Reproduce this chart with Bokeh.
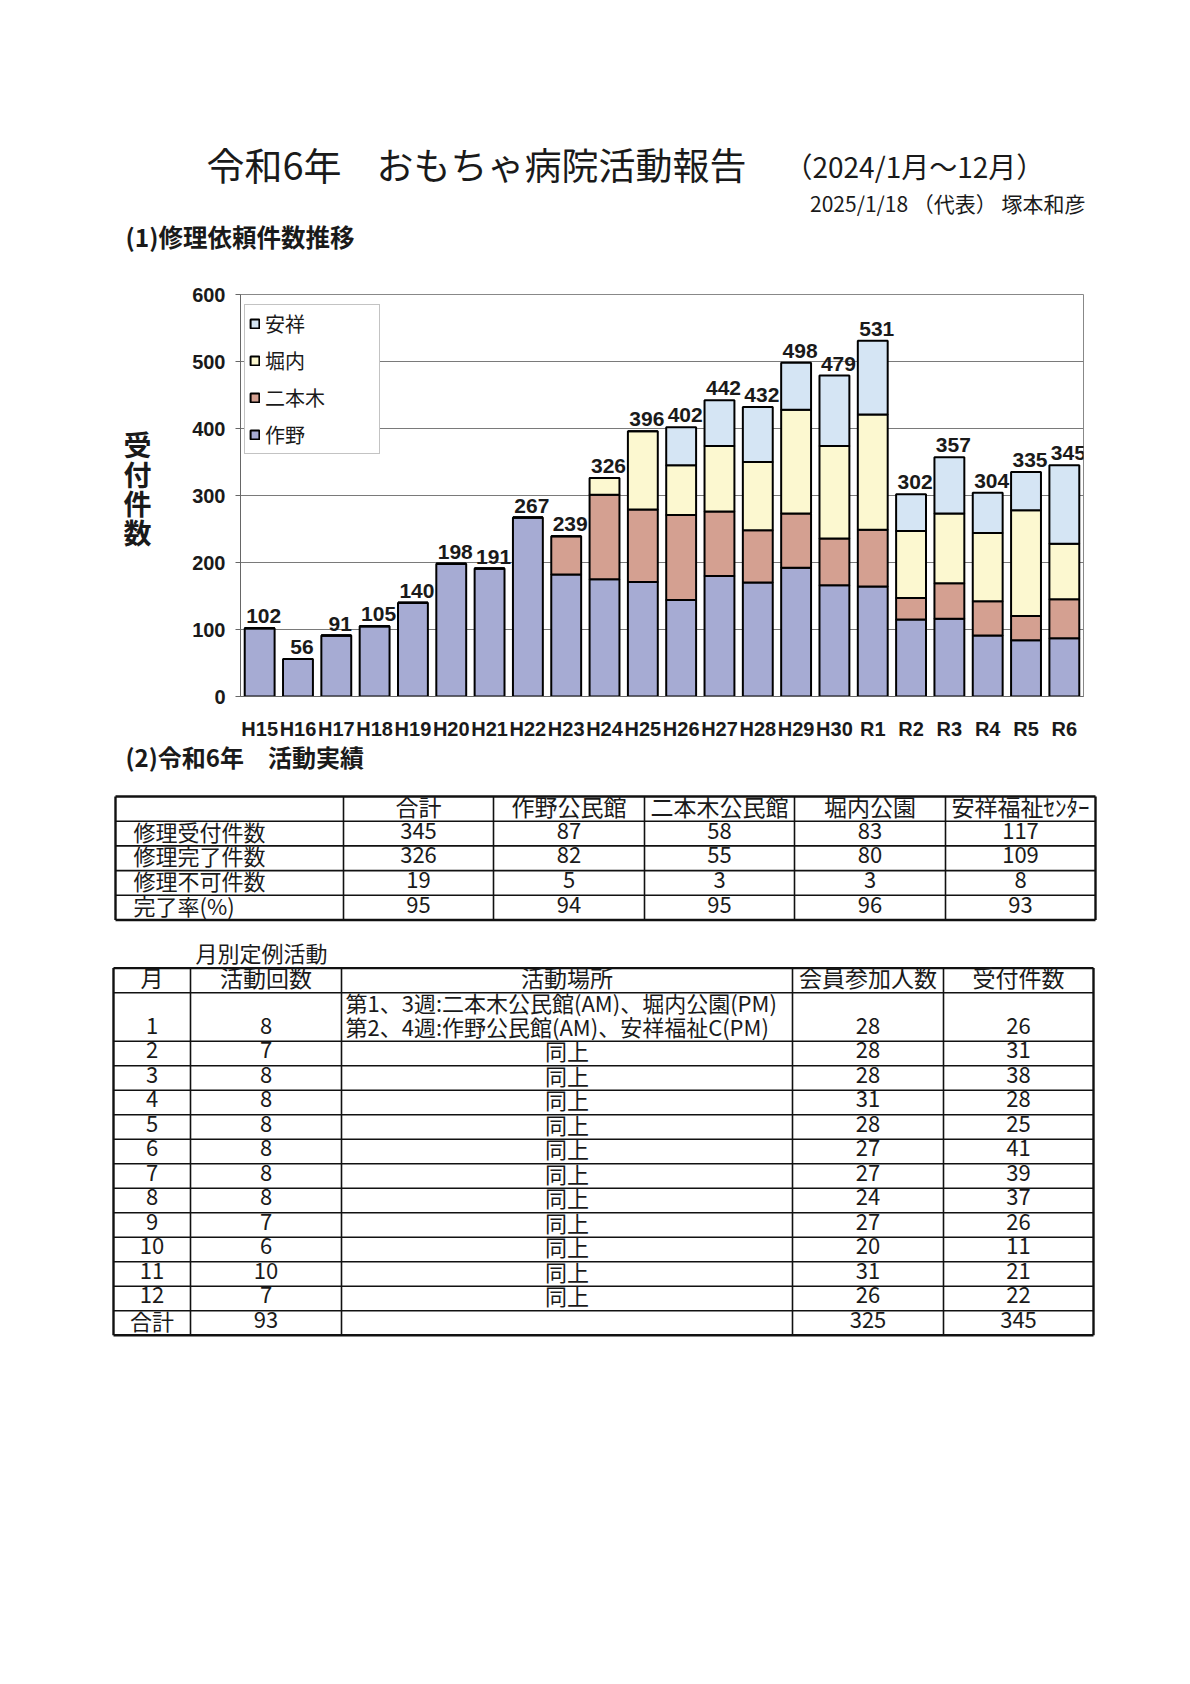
from bokeh.plotting import figure
from bokeh.layouts import column, row
from bokeh.models import Range1d, FactorRange, Legend, LegendItem, ColumnDataSource, FixedTicker
from bokeh.core.properties import value
from bokeh.embed import file_html
from bokeh.resources import INLINE

# ---------------- data ----------------
years = ["H15", "H16", "H17", "H18", "H19", "H20", "H21", "H22", "H23", "H24", "H25",
         "H26", "H27", "H28", "H29", "H30", "R1", "R2", "R3", "R4", "R5", "R6"]
sakuno = [102, 56, 91, 105, 140, 198, 191, 267, 182, 175, 171, 144, 180, 170, 192, 166, 164, 115, 116, 91, 84, 87]
nihongi = [0, 0, 0, 0, 0, 0, 0, 0, 57, 126, 108, 127, 96, 78, 81, 70, 85, 32, 53, 51, 36, 58]
horiuchi = [0, 0, 0, 0, 0, 0, 0, 0, 0, 25, 117, 74, 98, 102, 155, 138, 172, 100, 104, 102, 158, 83]
anjo = [0, 0, 0, 0, 0, 0, 0, 0, 0, 0, 0, 57, 68, 82, 70, 105, 110, 55, 84, 60, 57, 117]
totals = [102, 56, 91, 105, 140, 198, 191, 267, 239, 326, 396, 402, 442, 432, 498, 479, 531, 302, 357, 304, 335, 345]
series_names = ["作野", "二本木", "堀内", "安祥"]
series_colors = ["#A6ABD3", "#D4A091", "#FCF8D0", "#D5E5F4"]
y_ticks = [0, 100, 200, 300, 400, 500, 600]

t1_header = ["", "合計", "作野公民館", "二本木公民館", "堀内公園", "安祥福祉ｾﾝﾀｰ"]
t1_rows = ["修理受付件数", "修理完了件数", "修理不可件数", "完了率(%)"]
t1_total = [345, 326, 19, 95]
t1_sakuno = [87, 82, 5, 94]
t1_nihongi = [58, 55, 3, 95]
t1_horiuchi = [83, 80, 3, 96]
t1_anjo = [117, 109, 8, 93]

t2_header = ["月", "活動回数", "活動場所", "会員参加人数", "受付件数"]
t2_months = ["1", "2", "3", "4", "5", "6", "7", "8", "9", "10", "11", "12", "合計"]
t2_counts = [8, 7, 8, 8, 8, 8, 8, 8, 7, 6, 10, 7, 93]
t2_place_first = ["第1、3週:二本木公民館(AM)、堀内公園(PM)", "第2、4週:作野公民館(AM)、安祥福祉C(PM)"]
t2_place_other = "同上"
t2_members = [28, 28, 28, 31, 28, 27, 27, 24, 27, 20, 31, 26, 325]
t2_received = [26, 31, 38, 28, 25, 41, 39, 37, 26, 11, 21, 22, 345]

JP = "Noto Sans CJK JP"
NUM = "Liberation Sans"
INK = "#1a1a1a"
DY = -3  # optical correction for the CJK font's middle baseline


def canvas(w, h, x0, x1, y0, y1):
    p = figure(width=w, height=h, x_range=Range1d(x0, x1), y_range=Range1d(y1, y0),
               output_backend="svg", toolbar_location=None, min_border=0,
               x_axis_location=None, y_axis_location=None)
    p.grid.visible = False
    p.outline_line_color = None
    return p


def txt(p, x, y, s, size, align="left", bold=False, font=JP):
    p.text(x=[x], y=[y + DY], text=[s], text_font=value(font), text_font_size=f"{size}px",
           text_align=align, text_baseline="middle", text_color=INK,
           text_font_style="bold" if bold else "normal")


# ---------------- header ----------------
head = canvas(1174, 262, 8, 1182, 8, 270)
txt(head, 214, 174, "令和6年", 38)
txt(head, 384, 174, "おもちゃ病院活動報告", 37)
txt(head, 792, 176, "（2024/1月～12月）", 28)
txt(head, 1093, 213, "2025/1/18 （代表） 塚本和彦", 21, align="right")
txt(head, 133, 247, "(1)修理依頼件数推移", 24.5, bold=True)

# ---------------- chart ----------------
ytitle = canvas(160, 480, 8, 168, 270, 750)
for i, ch in enumerate("受付件数"):
    txt(ytitle, 145, 452 + 35 * i, ch, 28, align="center", bold=True)

src = ColumnDataSource(dict(years=years, sakuno=sakuno, nihongi=nihongi, horiuchi=horiuchi,
                            anjo=anjo, total=totals, label=[str(v) for v in totals]))
chart = figure(width=1014, height=480, x_range=FactorRange(*years), y_range=Range1d(0, 600),
               output_backend="svg", toolbar_location=None,
               min_border_left=80, min_border_right=91, min_border_top=32, min_border_bottom=46)
rs = chart.vbar_stack(["sakuno", "nihongi", "horiuchi", "anjo"], x="years", width=0.78,
                      fill_color=series_colors, line_color="black", line_width=2, source=src)
chart.text(x="years", y="total", text="label", source=src, text_font=value(NUM),
           text_font_style="bold", text_font_size="21px", text_align="center",
           text_baseline="bottom", y_offset=-5, x_offset=4, text_color=INK)

items = [LegendItem(label=n, renderers=[r]) for n, r in zip(series_names, rs)]
items.reverse()
legend = Legend(items=items, location=(4, 242), glyph_width=11, glyph_height=11,
                label_height=29, spacing=8, padding=4, label_standoff=5, label_width=110,
                label_text_font=JP, label_text_font_size="20px", label_text_color=INK,
                border_line_color="#888888", border_line_width=1, margin=0,
                background_fill_color="white", background_fill_alpha=1)
chart.add_layout(legend)

chart.xgrid.visible = False
chart.ygrid.ticker = FixedTicker(ticks=y_ticks)
chart.ygrid.grid_line_color = "#7a7a7a"
chart.ygrid.grid_line_width = 1
chart.outline_line_color = "#888888"
chart.yaxis.ticker = FixedTicker(ticks=y_ticks)
chart.yaxis.minor_tick_line_color = None
chart.yaxis.major_tick_out = 5
chart.yaxis.major_tick_in = 0
chart.yaxis.major_label_standoff = 10
chart.yaxis.axis_line_color = "#666666"
chart.yaxis.major_tick_line_color = "#666666"
chart.yaxis.major_label_text_font = NUM
chart.yaxis.major_label_text_font_style = "bold"
chart.yaxis.major_label_text_font_size = "20px"
chart.yaxis.major_label_text_color = INK
chart.xaxis.major_tick_line_color = None
chart.xaxis.axis_line_color = "#666666"
chart.xaxis.major_label_standoff = 15
chart.xaxis.major_label_text_font = NUM
chart.xaxis.major_label_text_font_style = "bold"
chart.xaxis.major_label_text_font_size = "20px"
chart.xaxis.major_label_text_color = INK

# ---------------- tables ----------------
tab = canvas(1174, 926, 8, 1182, 750, 1676)
txt(tab, 133, 767, "(2)令和6年　活動実績", 24, bold=True)


def grid_lines(p, xs, ys):
    x0s, y0s, x1s, y1s, ws = [], [], [], [], []
    for i, x in enumerate(xs):
        x0s.append(x); x1s.append(x); y0s.append(ys[0]); y1s.append(ys[-1])
        ws.append(2.4 if i in (0, len(xs) - 1) else 1.6)
    for j, y in enumerate(ys):
        x0s.append(xs[0]); x1s.append(xs[-1]); y0s.append(y); y1s.append(y)
        ws.append(2.4 if j in (0, len(ys) - 1) else 1.6)
    p.segment(x0=x0s, y0=y0s, x1=x1s, y1=y1s, line_color="#111111", line_width=ws)


# table 1
t1_x = [123, 351, 501, 652, 802, 953, 1103]
t1_rh = 24.7
t1_y = [804 + t1_rh * k for k in range(len(t1_rows) + 2)]
grid_lines(tab, t1_x, t1_y)
for c, h in enumerate(t1_header):
    if h:
        txt(tab, (t1_x[c] + t1_x[c + 1]) / 2, (t1_y[0] + t1_y[1]) / 2, h, 23, align="center")
t1_cols = [t1_total, t1_sakuno, t1_nihongi, t1_horiuchi, t1_anjo]
for r, name in enumerate(t1_rows):
    yc = (t1_y[r + 1] + t1_y[r + 2]) / 2
    txt(tab, 141, yc, name, 22)
    for c, col in enumerate(t1_cols):
        txt(tab, (t1_x[c + 1] + t1_x[c + 2]) / 2, yc, str(col[r]), 22, align="center")

# table 2
txt(tab, 203, 962, "月別定例活動", 22)
t2_x = [121, 198, 349, 800, 951, 1101]
t2_rh = 24.5
t2_y = [975.6, 1000.3, 1048.7] + [1048.7 + t2_rh * k for k in range(1, len(t2_months))]
grid_lines(tab, t2_x, t2_y)
for c, h in enumerate(t2_header):
    txt(tab, (t2_x[c] + t2_x[c + 1]) / 2, (t2_y[0] + t2_y[1]) / 2, h, 23, align="center")
for r, m in enumerate(t2_months):
    top, bot = t2_y[r + 1], t2_y[r + 2]
    yc = bot - t2_rh / 2
    vals = [m, str(t2_counts[r]), None, str(t2_members[r]), str(t2_received[r])]
    for c, v in enumerate(vals):
        if v is not None:
            txt(tab, (t2_x[c] + t2_x[c + 1]) / 2, yc, v, 22, align="center")
    if r == 0:
        txt(tab, t2_x[2] + 4, top + 12, t2_place_first[0], 22)
        txt(tab, t2_x[2] + 4, yc, t2_place_first[1], 22)
    elif m != "合計":
        txt(tab, (t2_x[2] + t2_x[3]) / 2, yc, t2_place_other, 22, align="center")

page = column(head, row(ytitle, chart), tab)
open("out.html", "w").write(file_html(page, INLINE))
